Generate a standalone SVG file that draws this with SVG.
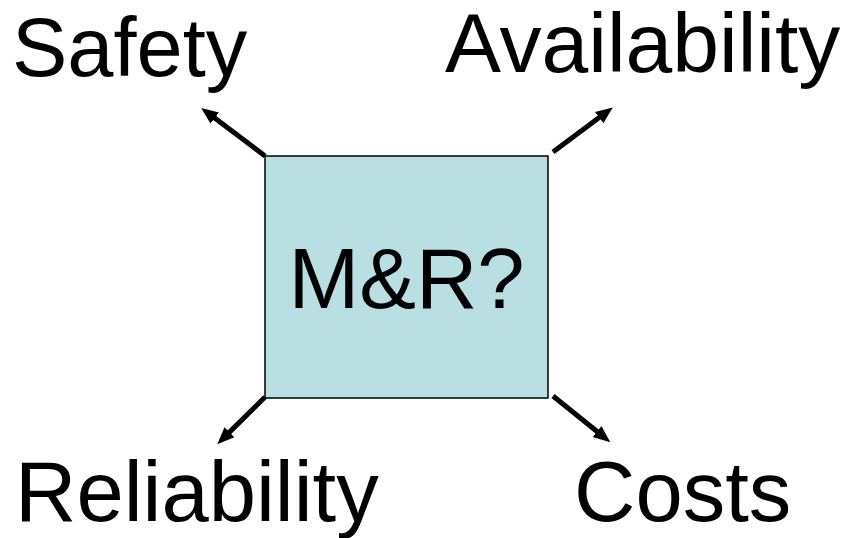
<svg xmlns="http://www.w3.org/2000/svg" width="854" height="538" viewBox="0 0 854 538">
<style>
.lbl{font-family:"Liberation Sans",Arial,sans-serif;font-size:85px;fill:#000}
.conn{stroke:#000;stroke-width:5;fill:none}
</style>
<defs>
<marker id="ah" markerUnits="userSpaceOnUse" markerWidth="18" markerHeight="16" refX="8" refY="8" orient="auto">
<path d="M0,1 L17,8 L0,15 Z" fill="#000"/>
</marker>
</defs>
<rect width="854" height="538" fill="#fff"/>
<g id="center">
<rect x="265" y="156" width="283" height="242" fill="#badfe3" stroke="#000" stroke-width="1.5"/>
<text class="lbl" x="406.5" y="308" text-anchor="middle">M&amp;R?</text>
</g>
<g id="safety"><text class="lbl" x="12" y="76" style="font-size:83px">Safety</text></g>
<g id="availability"><text class="lbl" x="445" y="72" style="font-size:84px">Availability</text></g>
<g id="reliability"><text class="lbl" x="15" y="521">Reliability</text></g>
<g id="costs"><text class="lbl" x="574" y="521">Costs</text></g>
<g id="connectors">
<line class="conn" x1="265" y1="156" x2="208.4" y2="113.3" marker-end="url(#ah)"/>
<line class="conn" x1="553" y1="152" x2="605.6" y2="112.8" marker-end="url(#ah)"/>
<line class="conn" x1="265" y1="397" x2="223.7" y2="437.9" marker-end="url(#ah)"/>
<line class="conn" x1="553" y1="396" x2="603.3" y2="436.5" marker-end="url(#ah)"/>
</g>
</svg>
